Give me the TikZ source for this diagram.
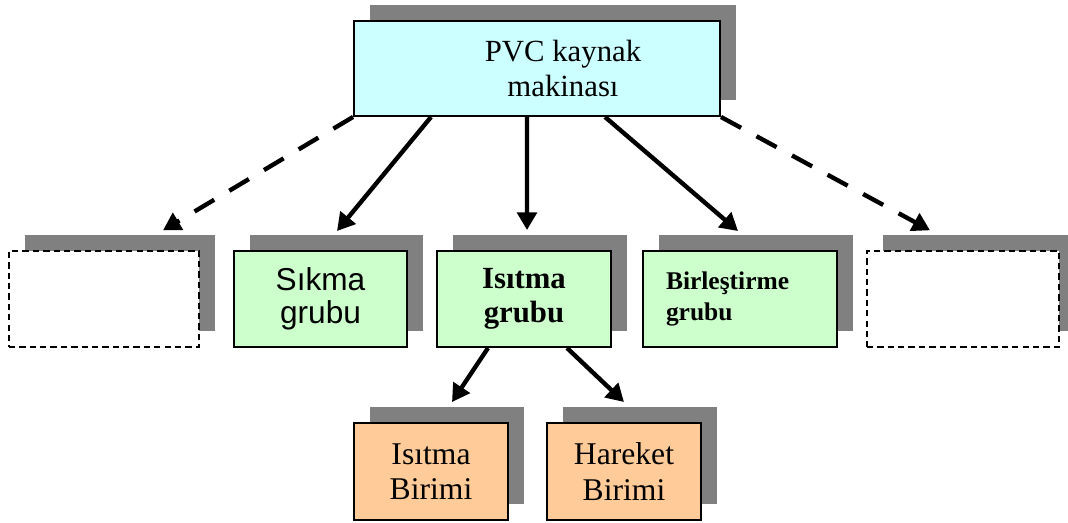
\documentclass[tikz,border=0pt]{standalone}
\usepackage{fontspec}
\setmainfont{Liberation Serif}
\newfontfamily\arialfont{Liberation Sans}
\usetikzlibrary{shadows, arrows.meta}
\definecolor{topcyan}{HTML}{CCFFFF}
\definecolor{boxgreen}{HTML}{CCFFCC}
\definecolor{boxorange}{HTML}{FFCC99}
\definecolor{shadegray}{HTML}{808080}

\begin{document}
\begin{tikzpicture}[
	box/.style={draw, line width=1.1pt, minimum height=1.92cm, align=center, inner sep=0pt,
		drop shadow={shadow xshift=0.32cm, shadow yshift=0.32cm, fill=shadegray, opacity=1}},
	emptybox/.style={box, fill=white, line width=0.8pt, dash pattern=on 3.6pt off 2.3pt},
	greenbox/.style={box, fill=boxgreen},
	unitbox/.style={box, fill=boxorange, minimum width=3.08cm, minimum height=1.94cm, font=\fontsize{18}{20}\selectfont},
	link/.style={line width=2.5pt, -{Triangle[length=10pt, width=11pt]}},
	optlink/.style={link, dash pattern=on 13pt off 10pt}]
			\useasboundingbox (0,0) rectangle (21.36,10.44);
			
			\node[box, fill=topcyan, minimum width=7.32cm, minimum height=1.9cm] (pvc) at (10.74,9.07) {};
			\node[font=\fontsize{17.5}{20}\selectfont, align=center] (pvcname) at ([xshift=5.2mm]pvc.center) {PVC kaynak\\makinası};
			
			\node[emptybox, minimum width=3.8cm] (none1) at (2.08,4.46) {};
			\node[greenbox, minimum width=3.46cm, font=\arialfont\fontsize{18}{19}\selectfont] (sikma) at (6.41,4.46) {Sıkma\\grubu};
			\node[greenbox, minimum width=3.48cm, font=\bfseries\fontsize{17.5}{19}\selectfont] (isitma) at (10.48,4.46) {Isıtma\\grubu};
			\node[greenbox, minimum width=3.88cm, text width=2.96cm, align=left, inner xsep=0.46cm, font=\bfseries\fontsize{14.5}{18}\selectfont] (birlestirme) at (14.8,4.46) {Birleştirme\\grubu};
			\node[emptybox, minimum width=3.84cm] (none2) at (19.26,4.46) {};
			
			\node[unitbox] (heatunit) at (8.62,1.01) {Isıtma\\Birimi};
			\node[unitbox] (moveunit) at (12.48,1.01) {Hareket\\Birimi};
			
			\draw[optlink] (pvc.south west) -- ([xshift=11.8mm, yshift=4mm]none1.north);
			\draw[link] ([xshift=15.6mm]pvc.south west) -- ([xshift=3.3mm, yshift=3.8mm]sikma.north);
			\draw[link] ([xshift=-2mm]pvc.south) -- ([xshift=0.6mm, yshift=4mm]isitma.north);
			\draw[link] ([xshift=13.6mm]pvc.south) -- ([xshift=-0.4mm, yshift=3.8mm]birlestirme.north);
			\draw[optlink] (pvc.south east) -- ([xshift=-6.6mm, yshift=4mm]none2.north);
			\draw[link] ([xshift=-7.2mm]isitma.south) -- ([xshift=4.2mm, yshift=4mm]heatunit.north);
			\draw[link] ([xshift=8.6mm]isitma.south) -- ([yshift=4mm]moveunit.north);
		\end{tikzpicture}
\end{document}
